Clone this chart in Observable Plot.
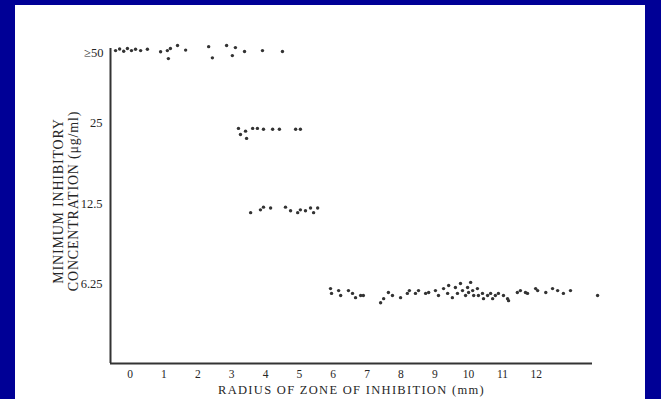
<!DOCTYPE html>
<html>
<head>
<meta charset="utf-8">
<script src="https://cdn.jsdelivr.net/npm/d3@7"></script>
<script src="https://cdn.jsdelivr.net/npm/@observablehq/plot@0.6"></script>
<style>
  html, body { margin: 0; padding: 0; background: #000096; width: 661px; height: 399px; overflow: hidden; }
  #panel { position: absolute; left: 15px; top: 5px; width: 630px; height: 394px; background: #ffffff; }
  #panel svg { display: block; }
</style>
</head>
<body>
<div id="panel"></div>
<script>
// ---- data ----
const xTicks = [0, 1, 2, 3, 4, 5, 6, 7, 8, 9, 10, 11, 12];
const yTicks = [50, 25, 12.5, 6.25];
const yTickLabels = ["≥50", "25", "12.5", "6.25"];
const xTitle = "RADIUS OF ZONE OF INHIBITION (mm)";
const yTitle = "MINIMUM INHIBITORY\nCONCENTRATION (μg/ml)";

// MIC ≥ 50 row: radius (mm), MIC as read
const row50X = [-0.43, -0.31, -0.19, -0.08, 0.04, 0.16, 0.31, 0.51, 0.90, 1.10, 1.13, 1.19, 1.40, 1.64, 2.32, 2.43, 2.85, 3.02, 3.11, 3.38, 3.91, 4.50];
const row50Y = [49.6, 50.3, 49.3, 50.5, 49.6, 50.2, 49.6, 50.2, 49.1, 49.6, 46.3, 50.5, 51.8, 49.8, 51.3, 46.6, 51.8, 47.5, 50.9, 49.2, 49.6, 49.2];

// MIC 25 row
const row25X = [3.20, 3.26, 3.41, 3.44, 3.62, 3.76, 3.94, 4.21, 4.41, 4.89, 5.03];
const row25Y = [25.4, 24.1, 24.8, 23.3, 25.4, 25.4, 25.2, 25.2, 25.2, 25.2, 25.2];

// MIC 12.5 row
const row12X = [3.56, 3.85, 3.94, 4.15, 4.59, 4.74, 4.95, 5.03, 5.18, 5.33, 5.42, 5.54];
const row12Y = [12.3, 12.6, 12.9, 12.8, 12.9, 12.5, 12.3, 12.6, 12.5, 12.8, 12.3, 12.8];

// MIC 6.25 row
const row6X = [5.92, 5.95, 6.16, 6.22, 6.45, 6.57, 6.66, 6.81, 6.89, 7.40, 7.49, 7.63, 7.75, 7.99, 8.19, 8.25, 8.43, 8.52, 8.73, 8.82,
  9.02, 9.11, 9.26, 9.38, 9.41, 9.52, 9.61, 9.67, 9.76, 9.82, 9.91, 9.97, 10.00, 10.06, 10.12, 10.15, 10.26, 10.29, 10.41, 10.44,
  10.56, 10.65, 10.71, 10.79, 10.88, 11.03, 11.15, 11.18, 11.44, 11.53, 11.68, 11.74, 11.98, 12.04, 12.28, 12.48, 12.63, 12.80, 13.01, 13.81];
const row6Y = [6.40, 6.14, 6.29, 6.03, 6.29, 6.14, 5.92, 6.03, 6.03, 5.67, 5.87, 6.19, 6.03, 5.92, 6.14, 6.29, 6.14, 6.29, 6.14, 6.19,
  6.29, 6.03, 6.40, 6.14, 6.57, 5.92, 6.46, 6.14, 6.69, 6.29, 6.03, 6.46, 6.19, 6.75, 6.29, 6.03, 6.40, 6.03, 6.14, 5.87,
  6.03, 6.14, 5.87, 6.03, 6.14, 6.03, 5.87, 5.77, 6.19, 6.29, 6.19, 6.14, 6.40, 6.29, 6.19, 6.40, 6.29, 6.14, 6.29, 6.03];

const xDomain = [-0.58, 13.66];
const yDomain = [3.36, 50.5];

// ---- build table ----
const pts = [];
[[row50X, row50Y], [row25X, row25Y], [row12X, row12Y], [row6X, row6Y]].forEach(([xs, ys]) => {
  xs.forEach((x, i) => pts.push({x, y: ys[i]}));
});

const fmtY = d => yTickLabels[yTicks.indexOf(d)];
const ink = "#262626";

const chart = Plot.plot({
  width: 630,
  height: 394,
  marginLeft: 95,
  marginRight: 53,
  marginTop: 43,
  marginBottom: 36,
  style: {background: "white", fontFamily: "'Liberation Serif', 'DejaVu Serif', serif", color: ink},
  x: {domain: xDomain},
  y: {type: "log", base: 2, domain: yDomain},
  marks: [
    Plot.ruleX([xDomain[0]], {stroke: "#333", strokeWidth: 2}),
    Plot.ruleY([yDomain[0]], {stroke: "#333", strokeWidth: 2}),
    Plot.axisX(xTicks, {tickSize: 0, tickPadding: 6, fontSize: 11.5, label: null, fill: ink}),
    Plot.axisY([yTicks[0]], {tickSize: 0, tickPadding: 7, fontSize: 12.5, label: null, tickFormat: fmtY, dy: 3, fill: ink}),
    Plot.axisY(yTicks.slice(1), {tickSize: 0, tickPadding: 8, fontSize: 12.5, label: null, tickFormat: fmtY, dy: -7, fill: ink}),
    Plot.dot(pts, {x: "x", y: "y", r: 1.7, fill: "#333", stroke: "none"}),
    Plot.text([xTitle], {text: d => d, frameAnchor: "bottom", dy: 30, fontSize: 12.5, fill: ink}),
    Plot.text([yTitle], {text: d => d, frameAnchor: "left", textAnchor: "middle", dx: -45, dy: -5, rotate: -90, fontSize: 14, lineHeight: 1.08, fill: ink})
  ]
});
// typographic spacing to mimic the wide scanned lettering
d3.select(chart).selectAll("text").each(function() {
  const t = this.textContent;
  if (t === xTitle) this.style.letterSpacing = "1.3px";
  if (t.startsWith("MINIMUM")) this.style.letterSpacing = "0.8px";
});
document.getElementById("panel").appendChild(chart);
</script>
</body>
</html>
